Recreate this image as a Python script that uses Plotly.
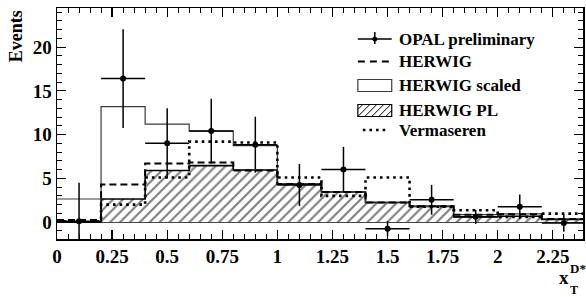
import plotly.graph_objects as go

# ---------------- data ----------------
bin_edges = [0.0, 0.2, 0.4, 0.6, 0.8, 1.0, 1.2, 1.4, 1.6, 1.8, 2.0, 2.2, 2.4]
opal_x = [0.1, 0.3, 0.5, 0.7, 0.9, 1.1, 1.3, 1.5, 1.7, 1.9, 2.1, 2.3]
opal_y = [0.1, 16.4, 9.0, 10.4, 8.85, 4.25, 6.0, -0.75, 2.55, 0.6, 1.75, -0.1]
opal_err = [4.4, 5.65, 4.0, 3.7, 3.2, 2.4, 2.6, 0.85, 1.7, 0.8, 1.4, 1.0]
opal_xerr = [0.1] * 12
herwig = [0.23, 4.3, 6.7, 6.8, 5.9, 4.35, 3.45, 2.25, 1.8, 0.85, 0.9, 0.35]
herwig_scaled = [2.64, 13.2, 11.2, 10.4, 8.74, 4.35, 3.5, 2.27, 1.8, 0.86, 0.94, 0.37]
herwig_pl = [0.0, 2.64, 5.9, 6.45, 5.95, 4.35, 3.45, 2.25, 1.8, 0.6, 0.67, 0.3]
vermaseren = [0.1, 2.0, 5.1, 9.2, 9.1, 5.1, 3.0, 5.1, 1.75, 1.35, 0.6, 0.97]

x_ticks = [0, 0.25, 0.5, 0.75, 1, 1.25, 1.5, 1.75, 2, 2.25]
x_ticktext = ["0", "0.25", "0.5", "0.75", "1", "1.25", "1.5", "1.75", "2", "2.25"]
y_ticks = [0, 5, 10, 15, 20]

legend_labels = ["OPAL preliminary", "HERWIG", "HERWIG scaled", "HERWIG PL", "Vermaseren"]

FONT = "Liberation Serif"
W, H = 586, 297
L, R, T, B = 57, 1, 8, 58
PW, PH = W - L - R, H - T - B


def step(vals):
    return list(bin_edges), list(vals) + [vals[-1]]


fig = go.Figure()

# HERWIG PL hatched
sx, sy = step(herwig_pl)
fig.add_trace(go.Scatter(x=sx, y=sy, mode="lines", line=dict(shape="hv", color="black", width=1.6),
                         fill="tozeroy", fillcolor="rgba(0,0,0,0)",
                         fillpattern=dict(shape="/", fgcolor="black", bgcolor="white", size=7, solidity=0.3),
                         showlegend=False, hoverinfo="skip"))
# HERWIG scaled
sx, sy = step(herwig_scaled)
fig.add_trace(go.Scatter(x=sx, y=sy, mode="lines", line=dict(shape="hv", color="#3a3a3a", width=1.2),
                         showlegend=False, hoverinfo="skip"))
# HERWIG dashed
sx, sy = step(herwig)
fig.add_trace(go.Scatter(x=sx, y=sy, mode="lines", line=dict(shape="hv", color="black", width=2, dash="7px,4px"),
                         showlegend=False, hoverinfo="skip"))
# Vermaseren dotted
sx, sy = step(vermaseren)
fig.add_trace(go.Scatter(x=sx, y=sy, mode="lines", line=dict(shape="hv", color="black", width=2.6, dash="2.6px,4px"),
                         showlegend=False, hoverinfo="skip"))
# OPAL data
fig.add_trace(go.Scatter(x=opal_x, y=opal_y, mode="markers",
                         marker=dict(color="black", size=6, symbol="circle"),
                         error_y=dict(type="data", array=opal_err, color="black", thickness=1.5, width=0),
                         error_x=dict(type="data", array=opal_xerr, color="black", thickness=1.5, width=0),
                         showlegend=False, hoverinfo="skip"))


def px(xp):
    return (xp - L) / PW


def py(yp):
    return (H - B - yp) / PH


shapes = []
annotations = []

# legend
lx0, lx1 = 359, 393
rows = [39, 61.5, 85.5, 110.5, 130]
text_x = 398
# OPAL cross
shapes.append(dict(type="line", xref="paper", yref="paper", x0=px(lx0), x1=px(lx1), y0=py(rows[0]), y1=py(rows[0]),
                   line=dict(color="black", width=1.5)))
shapes.append(dict(type="line", xref="paper", yref="paper", x0=px(376), x1=px(376), y0=py(rows[0] - 7), y1=py(rows[0] + 5),
                   line=dict(color="black", width=1.5)))
shapes.append(dict(type="circle", xref="paper", yref="paper", x0=px(373.5), x1=px(378.5), y0=py(rows[0] - 2.5),
                   y1=py(rows[0] + 2.5), fillcolor="black", line=dict(color="black", width=0)))
# HERWIG dashed
shapes.append(dict(type="line", xref="paper", yref="paper", x0=px(lx0), x1=px(lx1), y0=py(rows[1]), y1=py(rows[1]),
                   line=dict(color="black", width=2, dash="7px,5px")))
# HERWIG scaled box
shapes.append(dict(type="rect", xref="paper", yref="paper", x0=px(lx0), x1=px(lx1), y0=py(rows[2] - 6), y1=py(rows[2] + 6),
                   line=dict(color="#3a3a3a", width=1.2), fillcolor="white"))
# HERWIG PL hatched box
bx0, bx1, by0, by1 = lx0, lx1, rows[3] - 6, rows[3] + 6
shapes.append(dict(type="rect", xref="paper", yref="paper", x0=px(bx0), x1=px(bx1), y0=py(by0), y1=py(by1),
                   line=dict(color="black", width=1.2), fillcolor="white"))
k = bx0 + by0 + 5
while k < bx1 + by1:
    xa = max(bx0, k - by1)
    xb = min(bx1, k - by0)
    if xb > xa:
        shapes.append(dict(type="line", xref="paper", yref="paper", x0=px(xa), y0=py(k - xa), x1=px(xb), y1=py(k - xb),
                           line=dict(color="black", width=1)))
    k += 7
# Vermaseren dotted
shapes.append(dict(type="line", xref="paper", yref="paper", x0=px(364), x1=px(390), y0=py(rows[4]), y1=py(rows[4]),
                   line=dict(color="black", width=2.6, dash="2.6px,4px")))

for lab, r in zip(legend_labels, rows):
    annotations.append(dict(text=lab, xref="paper", yref="paper", x=px(text_x), y=py(r), xanchor="left", yanchor="middle",
                            showarrow=False, font=dict(family=FONT, size=17, color="black", weight="bold")))

# axis titles
annotations.append(dict(text="Events", xref="paper", yref="paper", x=px(16), y=py(8), xanchor="center", yanchor="top",
                        textangle=-90, showarrow=False, font=dict(family=FONT, size=18, color="black", weight="bold")))
annotations.append(dict(text="x", xref="paper", yref="paper", x=px(566), y=py(277), xanchor="center", yanchor="middle",
                        showarrow=False, borderpad=0, font=dict(family=FONT, size=19, color="black", weight="bold")))
annotations.append(dict(text="D*", xref="paper", yref="paper", x=px(571), y=py(268), xanchor="left", yanchor="middle",
                        showarrow=False, borderpad=0, font=dict(family=FONT, size=13, color="black", weight="bold")))
annotations.append(dict(text="T", xref="paper", yref="paper", x=px(571), y=py(289.5), xanchor="left", yanchor="middle",
                        showarrow=False, borderpad=0, font=dict(family=FONT, size=12, color="black", weight="bold")))

fig.update_layout(
    width=W, height=H, margin=dict(l=L, r=R, t=T, b=B),
    paper_bgcolor="white", plot_bgcolor="white",
    shapes=shapes, annotations=annotations, showlegend=False,
    font=dict(family=FONT, color="black"),
)
fig.update_xaxes(range=[0, 2.387], tickvals=x_ticks, ticktext=x_ticktext, ticks="inside", ticklen=9, tickwidth=1.2,
                 tickcolor="black", showline=True, linecolor="black", linewidth=1.5, mirror="ticks",
                 showgrid=False, zeroline=False,
                 tickfont=dict(family=FONT, size=19, color="black", weight="bold"),
                 minor=dict(dtick=0.05, tick0=0, ticks="inside", ticklen=5, tickwidth=1, tickcolor="black", showgrid=False))
fig.update_yaxes(range=[-1.93, 24.47], tickvals=y_ticks, ticks="inside", ticklen=9, tickwidth=1.2,
                 tickcolor="black", showline=True, linecolor="black", linewidth=1.5, mirror="ticks",
                 showgrid=False, zeroline=True, zerolinecolor="#444", zerolinewidth=1,
                 tickfont=dict(family=FONT, size=19, color="black", weight="bold"),
                 minor=dict(dtick=1, tick0=0, ticks="inside", ticklen=5, tickwidth=1, tickcolor="black", showgrid=False))

fig.write_html("out.html", config={"displayModeBar": False, "staticPlot": True},
               post_script="document.body.style.margin='0';document.body.style.padding='0';document.body.style.overflow='hidden';")
